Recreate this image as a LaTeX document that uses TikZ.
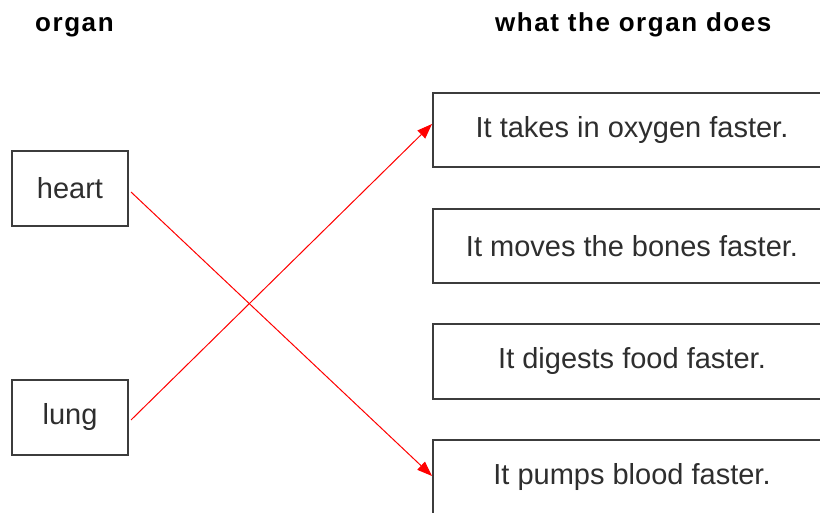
\documentclass[tikz,border=0pt]{standalone}
\usepackage{fontspec}
\setmainfont{Liberation Sans}
\usetikzlibrary{arrows.meta,calc}
\definecolor{txt}{HTML}{2E2E2E}
\definecolor{edge}{HTML}{3C3C3C}
\newfontfamily\headfont[LetterSpace=6]{Liberation Sans Bold}
\tikzset{
  organbox/.style={draw=edge,line width=2pt,minimum width=116pt,minimum height=75pt,inner sep=0pt,text=txt,font=\fontsize{29}{32}\selectfont},
  actbox/.style={draw=edge,line width=2pt,minimum width=398pt,minimum height=74pt,inner sep=0pt,text=txt,font=\fontsize{29}{32}\selectfont},
  headtext/.style={inner sep=0pt,anchor=base west,font=\headfont\fontsize{26}{28}\selectfont},
  link/.style={draw=red,line width=1pt,-{Triangle[length=15pt,width=11pt]}}
}
\begin{document}
\begin{tikzpicture}[x=1pt,y=-1pt]
\useasboundingbox (0,0) rectangle (820,513);
\clip (0,0) rectangle (820,513);
\fill[white] (0,0) rectangle (820,513);
\node[headtext] (h1) at (35,32) {organ};
\node[headtext] (h2) at (495,32) {what the organ does};
\node[organbox] (heart) at (70,188.5) {heart};
\node[organbox] (lung) at (70,417.5) {lung};
\node[actbox] (a1) at (632,130) {It takes in oxygen faster.};
\node[actbox] (a2) at (632,246.5) {It moves the bones faster.};
\node[actbox] (a3) at (632,361.5) {It digests food faster.};
\node[actbox] (a4) at (632,477) {It pumps blood faster.};
\draw[link] ($(heart.east)+(2,3.5)$) -- ($(a4.west)+(0,-1)$);
\draw[link] ($(lung.east)+(2,2.5)$) -- ($(a1.west)+(0,-6)$);
\end{tikzpicture}
\end{document}
